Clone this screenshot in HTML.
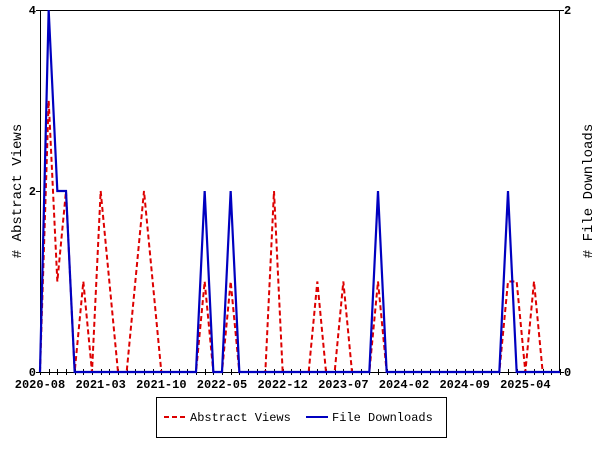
<!DOCTYPE html>
<html><head><style>body{margin:0;background:#fff}svg{display:block}text{font-family:"Liberation Mono",monospace;font-weight:bold;font-size:12px;fill:#000}</style></head>
<body>
<svg width="600" height="450" xmlns="http://www.w3.org/2000/svg">
<rect width="600" height="450" fill="#fff"/>
<rect x="40.5" y="10.5" width="519" height="362" fill="none" stroke="#000" stroke-width="1"/>
<g id="ticks" stroke="#000" stroke-width="1"></g>
<polyline id="red" fill="none" stroke="#dd0000" stroke-width="2" stroke-dasharray="5,3"/>
<polyline id="blue" fill="none" stroke="#0000c0" stroke-width="2.2"/>
<text x="36" y="14" text-anchor="end">4</text>
<text x="36" y="195" text-anchor="end">2</text>
<text x="36" y="376" text-anchor="end">0</text>
<text x="564" y="14">2</text>
<text x="564" y="376">0</text>
<g id="xl"></g>
<text transform="translate(21,191) rotate(-90)" text-anchor="middle" style="font-size:14px;font-weight:normal">#  Abstract Views</text>
<text transform="translate(592,191) rotate(-90)" text-anchor="middle" style="font-size:14px;font-weight:normal"># File Downloads</text>
<rect x="156.5" y="397.5" width="290" height="40" fill="none" stroke="#000"/>
<line x1="164" y1="417" x2="186" y2="417" stroke="#dd0000" stroke-width="2" stroke-dasharray="5,3"/>
<text x="190" y="421" style="font-weight:normal">Abstract Views</text>
<line x1="306" y1="417" x2="328" y2="417" stroke="#0000c0" stroke-width="2"/>
<text x="332" y="421" style="font-weight:normal">File Downloads</text>
</svg>
<script>
var X=function(m){return 40+m*520/60};
var red={0:0,1:3,2:1,3:2,4:0,5:1,6:0,7:2,8:1,9:0,10:0,11:1,12:2,13:1,14:0,19:1,22:1,27:2,32:1,35:1,39:1,54:1,55:1,57:1};
var blue={1:2,2:1,3:1,19:1,22:1,39:1,54:1};
var rp=[],bp=[];
for(var m=0;m<=60;m++){rp.push(X(m)+","+(372-(red[m]||0)*90.5));bp.push(X(m)+","+(372-(blue[m]||0)*181));}
document.getElementById('red').setAttribute('points',rp.join(' '));
document.getElementById('blue').setAttribute('points',bp.join(' '));
var t=document.getElementById('ticks'),s='';
for(var m=0;m<=60;m++){var x=Math.round(X(m))+0.5;s+='<line x1="'+x+'" y1="369" x2="'+x+'" y2="375"/>';}
s+='<line x1="36" y1="10.5" x2="40" y2="10.5"/><line x1="36" y1="191.5" x2="40" y2="191.5"/><line x1="36" y1="372.5" x2="40" y2="372.5"/><line x1="560" y1="10.5" x2="564" y2="10.5"/><line x1="560" y1="372.5" x2="564" y2="372.5"/>';
t.innerHTML=s;
var labs=["2020-08","2021-03","2021-10","2022-05","2022-12","2023-07","2024-02","2024-09","2025-04"],h='';
for(var i=0;i<labs.length;i++){h+='<text x="'+X(i*7)+'" y="388" text-anchor="middle">'+labs[i]+'</text>';}
document.getElementById('xl').innerHTML=h;
</script>
</body></html>
